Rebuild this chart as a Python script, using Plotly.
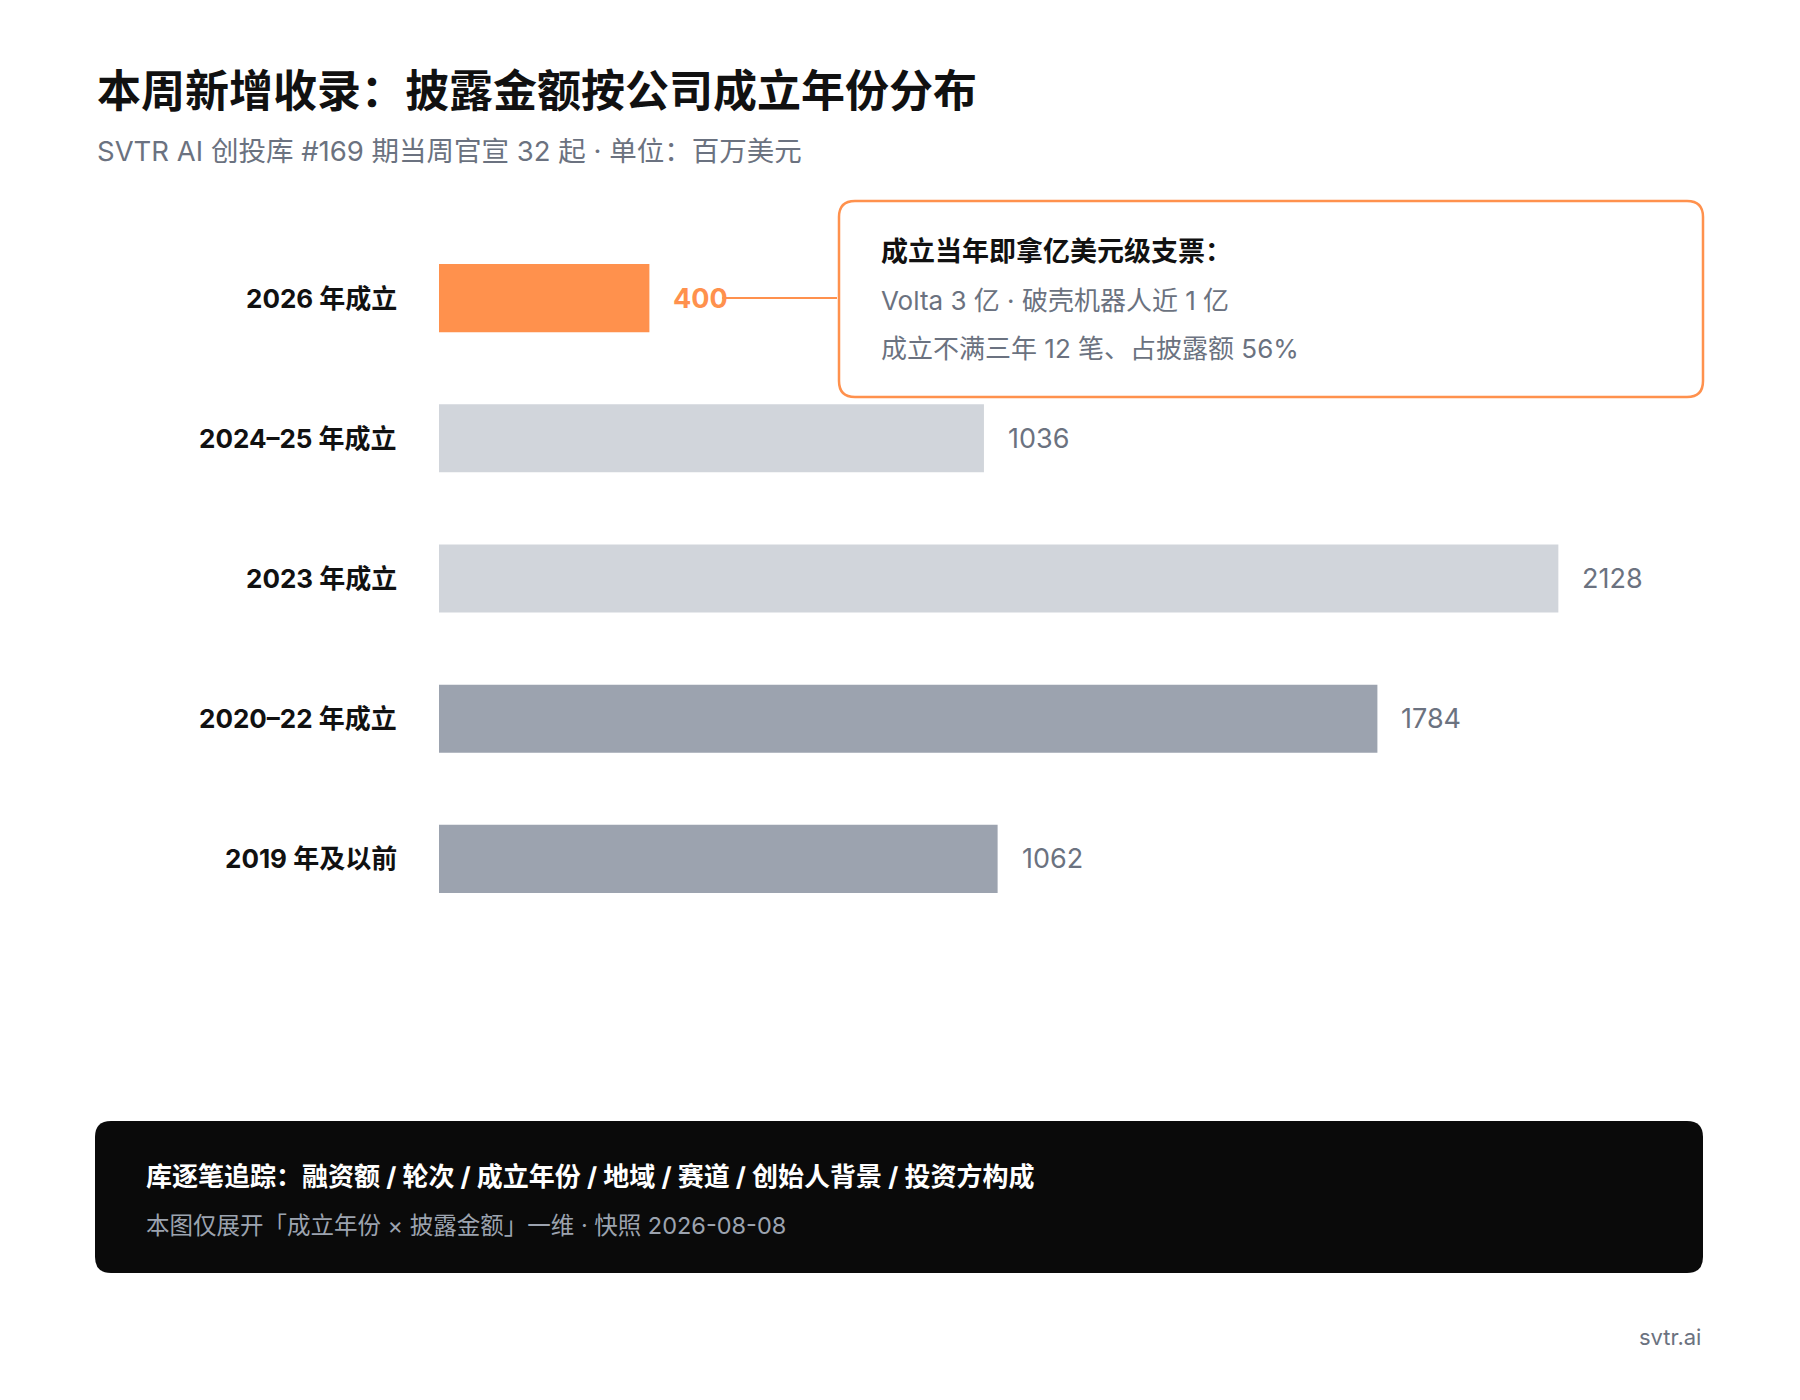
import plotly.graph_objects as go

categories = ['2026 年成立', '2024–25 年成立', '2023 年成立', '2020–22 年成立', '2019 年及以前']
amounts = [400, 1036, 2128, 1784, 1062]
bar_colors = ['#ff914d', '#d1d5db', '#d1d5db', '#9ca3af', '#9ca3af']

title = '本周新增收录：披露金额按公司成立年份分布'
subtitle = 'SVTR AI 创投库 #169 期当周官宣 32 起 · 单位：百万美元'
callout_lines = ['成立当年即拿亿美元级支票：', 'Volta 3 亿 · 破壳机器人近 1 亿', '成立不满三年 12 笔、占披露额 56%']
footer_lines = ['库逐笔追踪：融资额 / 轮次 / 成立年份 / 地域 / 赛道 / 创始人背景 / 投资方构成',
                '本图仅展开「成立年份 × 披露金额」一维 · 快照 2026-08-08']
source = 'svtr.ai'

W, H = 1800, 1400
FONT = 'Inter, "Noto Sans CJK SC", sans-serif'
DX, DY = -9, -7  # nudge everything to line up with the reference


def px(x):
    return (x + DX) / W


def py_(y):
    return 1 - (y + DY) / H


def rounded_rect(x0, y0, x1, y1, r):
    # pixel box -> paper path with rounded corners
    pts = [
        f'M {px(x0 + r)} {py_(y0)}', f'L {px(x1 - r)} {py_(y0)}',
        f'Q {px(x1)} {py_(y0)} {px(x1)} {py_(y0 + r)}', f'L {px(x1)} {py_(y1 - r)}',
        f'Q {px(x1)} {py_(y1)} {px(x1 - r)} {py_(y1)}', f'L {px(x0 + r)} {py_(y1)}',
        f'Q {px(x0)} {py_(y1)} {px(x0)} {py_(y1 - r)}', f'L {px(x0)} {py_(y0 + r)}',
        f'Q {px(x0)} {py_(y0)} {px(x0 + r)} {py_(y0)}', 'Z',
    ]
    return ' '.join(pts)


fig = go.Figure(go.Bar(
    x=amounts, y=categories, orientation='h',
    marker=dict(color=bar_colors, line=dict(width=0)),
    width=0.486, hoverinfo='skip',
))

annotations = []
for i, (c, v) in enumerate(zip(categories, amounts)):
    annotations.append(dict(
        x=px(400), xref='paper', y=c, yref='y', text=f'<b>{c}</b>', showarrow=False,
        xanchor='right', font=dict(size=26, color='#111111', family=FONT)))
    first = i == 0
    annotations.append(dict(
        x=v, y=c, xref='x', yref='y', text=f'<b>{v}</b>' if first else str(v), showarrow=False,
        xanchor='left', xshift=22,
        font=dict(size=27, color='#ff914d' if first else '#6b7280', family=FONT)))

annotations += [
    dict(x=px(96), y=py_(90), xref='paper', yref='paper', text=f'<b>{title}</b>', showarrow=False,
         xanchor='left', yanchor='middle', font=dict(size=44, color='#111111', family=FONT)),
    dict(x=px(96), y=py_(150), xref='paper', yref='paper', text=subtitle, showarrow=False,
         xanchor='left', yanchor='middle', font=dict(size=27.5, color='#6b7280', family=FONT)),
    dict(x=px(880), y=py_(250), xref='paper', yref='paper', text=f'<b>{callout_lines[0]}</b>', showarrow=False,
         xanchor='left', yanchor='middle', font=dict(size=27, color='#111111', family=FONT)),
    dict(x=px(880), y=py_(299), xref='paper', yref='paper', text=callout_lines[1], showarrow=False,
         xanchor='left', yanchor='middle', font=dict(size=26, color='#6b7280', family=FONT)),
    dict(x=px(880), y=py_(347), xref='paper', yref='paper', text=callout_lines[2], showarrow=False,
         xanchor='left', yanchor='middle', font=dict(size=26, color='#6b7280', family=FONT)),
    dict(x=px(145), y=py_(1175), xref='paper', yref='paper', text=f'<b>{footer_lines[0]}</b>', showarrow=False,
         xanchor='left', yanchor='middle', font=dict(size=26, color='#ffffff', family=FONT)),
    dict(x=px(145), y=py_(1224), xref='paper', yref='paper', text=footer_lines[1], showarrow=False,
         xanchor='left', yanchor='middle', font=dict(size=23.5, color='#9ca3af', family=FONT)),
    dict(x=px(1704), y=py_(1336), xref='paper', yref='paper', text=source, showarrow=False,
         xanchor='right', yanchor='middle', font=dict(size=22, color='#6b7280', family=FONT)),
]

shapes = [
    dict(type='path', xref='paper', yref='paper', path=rounded_rect(840, 200, 1704, 396, 16),
         line=dict(color='#ff914d', width=2.5), fillcolor='rgba(0,0,0,0)'),
    dict(type='line', xref='paper', yref='y', x0=px(723), x1=px(838), y0=categories[0], y1=categories[0],
         line=dict(color='#ff914d', width=2)),
    dict(type='path', xref='paper', yref='paper', path=rounded_rect(96, 1120, 1704, 1272, 16),
         line=dict(width=0), fillcolor='#0a0a0a', layer='below'),
]

fig.update_layout(
    width=W, height=H, margin=dict(l=0, r=0, t=0, b=0),
    paper_bgcolor='#ffffff', plot_bgcolor='#ffffff', showlegend=False,
    xaxis=dict(domain=[px(440), px(1704)], range=[0, 2403], visible=False, fixedrange=True),
    yaxis=dict(domain=[py_(928), py_(227)], autorange='reversed', visible=False, fixedrange=True),
    annotations=annotations, shapes=shapes, font=dict(family=FONT),
)

fig.write_html('out.html')
